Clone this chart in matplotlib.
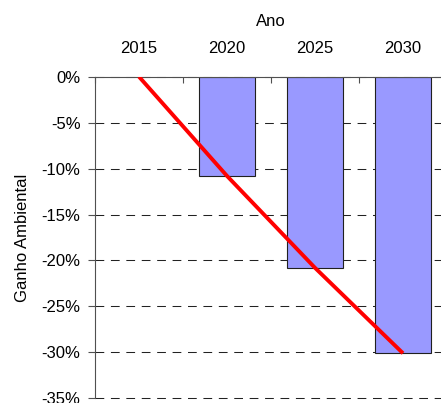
import matplotlib
matplotlib.use("Agg")
import matplotlib.pyplot as plt
import matplotlib.ticker as mticker

plt.rcParams["font.family"] = ["Liberation Sans", "DejaVu Sans"]
plt.rcParams["axes.unicode_minus"] = False

FONT_SIZE = 12

anos = ["2015", "2020", "2025", "2030"]
ganho = [0.0, -10.8, -20.8, -30.1]          # % ganho ambiental por ano
y_ticks = [0, -5, -10, -15, -20, -25, -30, -35]

BAR_COLOR = "#9999FF"
LINE_COLOR = "#FF0000"
AXIS_COLOR = "#505050"

fig = plt.figure(figsize=(4.41, 4.03), dpi=100)
ax = fig.add_axes([95 / 441, 1 - 398.3 / 403, 352 / 441, 321.6 / 403])

x = list(range(len(anos)))

# bars only for the projected years (2015 is the baseline, 0%)
ax.bar(x[1:], ganho[1:], width=0.64, color=BAR_COLOR, edgecolor="#202020",
       linewidth=0.8, zorder=2)
ax.plot(x, ganho, color=LINE_COLOR, linewidth=2.8, zorder=3,
        solid_capstyle="butt")

ax.set_xlim(-0.5, len(anos) - 0.5)
ax.set_ylim(-35, 0)

# x axis on top, labels centred in each category, ticks at the boundaries
ax.xaxis.tick_top()
ax.xaxis.set_label_position("top")
ax.set_xticks([i - 0.5 for i in range(len(anos) + 1)])
ax.set_xticklabels([])
ax.set_xticks(x, minor=True)
ax.set_xticklabels(anos, minor=True, fontsize=FONT_SIZE)
ax.tick_params(axis="x", which="major", direction="in", length=4,
               color=AXIS_COLOR, top=True, bottom=False)
ax.tick_params(axis="x", which="minor", length=0, pad=15, top=True, bottom=False)
ax.set_xlabel("Ano", fontsize=FONT_SIZE, labelpad=11)

ax.set_yticks(y_ticks)
ax.yaxis.set_major_formatter(mticker.FuncFormatter(lambda v, _: f"{int(round(v))}%"))
ax.tick_params(axis="y", direction="out", length=5, pad=5.5, color=AXIS_COLOR,
               labelsize=FONT_SIZE)
ax.set_ylabel("Ganho Ambiental", fontsize=FONT_SIZE, labelpad=8)

ax.grid(True, axis="y", color="#222222", linestyle=(0, (8.4, 6.4)), linewidth=0.75,
        zorder=1)
ax.set_axisbelow(True)
for gl in ax.get_ygridlines():
    gl.set_clip_on(False)

ax.spines["right"].set_visible(False)
ax.spines["bottom"].set_visible(False)
ax.spines["top"].set_color(AXIS_COLOR)
ax.spines["left"].set_color(AXIS_COLOR)

fig.savefig("out.png", dpi=100)
plt.close(fig)
